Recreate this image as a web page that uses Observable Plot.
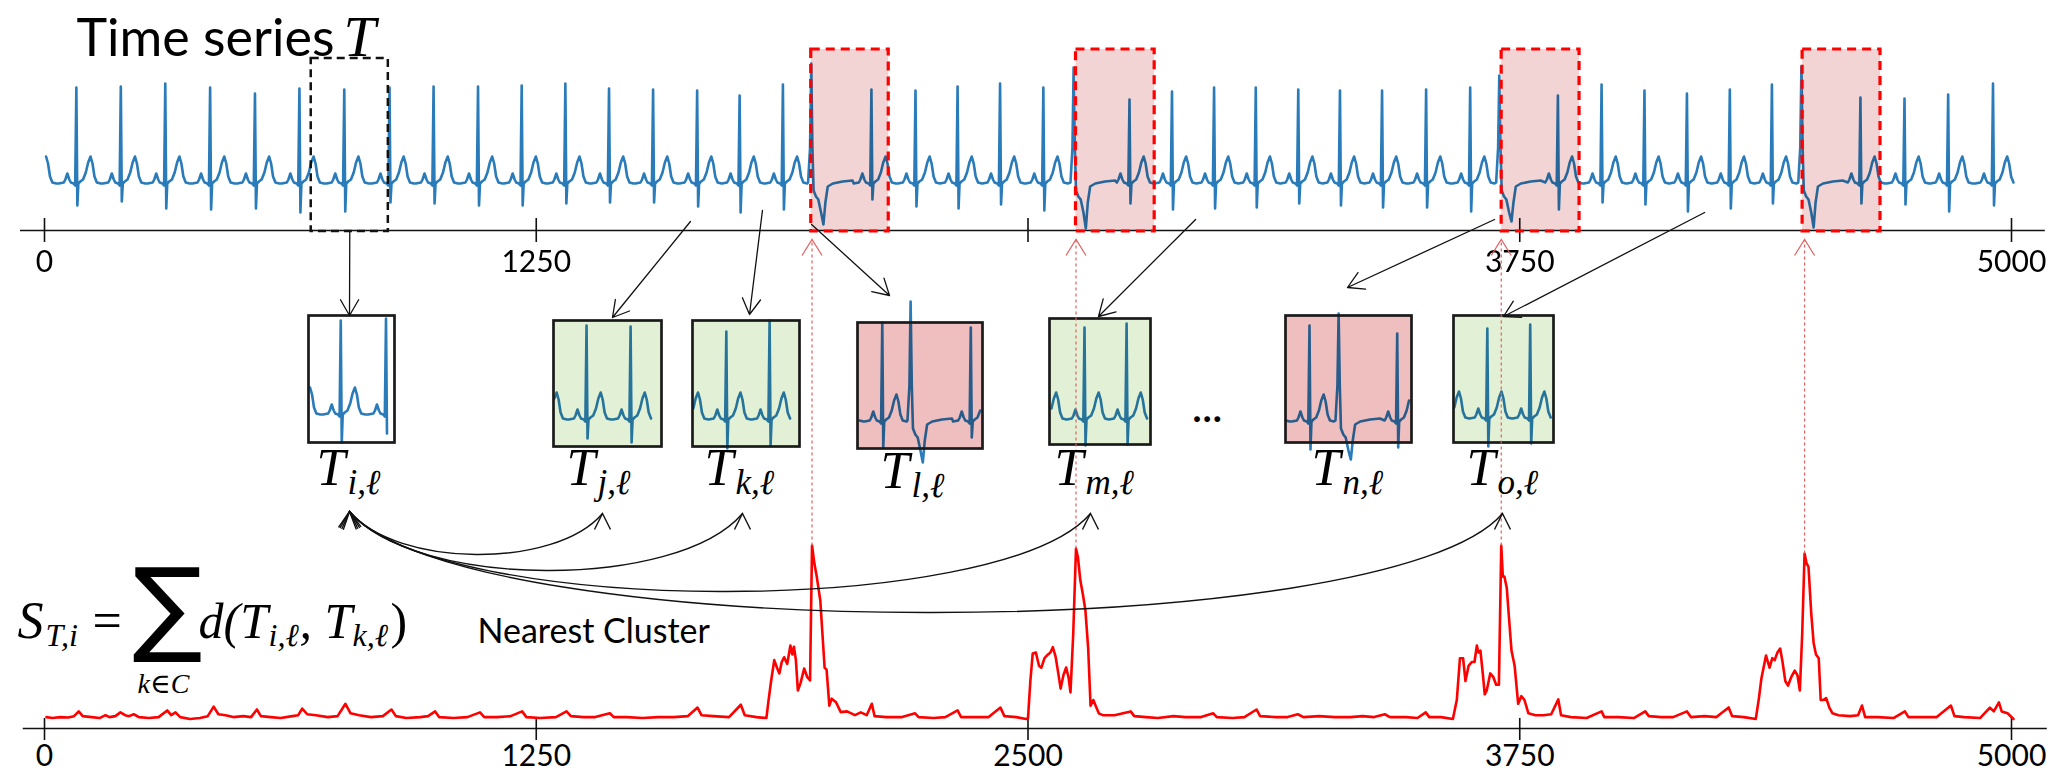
<!DOCTYPE html>
<html><head><meta charset="utf-8">
<script src="https://cdn.jsdelivr.net/npm/d3@7"></script>
<script src="https://cdn.jsdelivr.net/npm/@observablehq/plot@0.6"></script>
<style>
html,body{margin:0;padding:0;background:#fff;}
#fig{position:relative;width:2060px;height:772px;overflow:hidden;background:#fff;}
</style></head><body><div id="fig"></div>
<script>
// ---------------- DATA ----------------
// ECG beats (time index of R / ectopic spike), type, peak height, S / dip depth
const beatTimes = [-32,81,194,307,421,535,648,762,877,989,1102,1213,1324,1435,1547,1659,1767,1877,1949,2102,2214,2321,2429,2539,2616,2758,2866,2973,3079,3187,3293,3400,3512,3624,3698,3847,3958,4067,4175,4284,4391,4466,4616,4728,4839,4953];
const beatTypes = ["N","N","N","N","N","N","N","N","N","N","N","N","N","N","N","N","N","N","V","N","N","N","N","N","V","N","N","N","N","N","N","N","N","N","V","N","N","N","N","N","N","V","N","N","N","N"];
const beatPeaks = [95,95,96,99,95,89,94,93,95,96,96,97,99,94,93,92,87,98,119,93,92,96,99,95,115,83,91,95,95,93,92,92,93,95,107,87,98,92,89,93,98,116,85,84,88,99];
const beatDips  = [-22,-23,-19,-26,-27,-26,-30,-29,-20,-21,-23,-23,-21,-20,-20,-24,-30,-27,-42,-17,-24,-26,-22,-28,-46,-21,-27,-26,-25,-21,-23,-25,-25,-29,-39,-27,-20,-22,-29,-26,-21,-45,-21,-22,-29,-23];
// waveform shapes: [offset from R, value]; "R"/"S" take the beat's own peak / dip
const normalShape = [[-45,-1],[-32,0],[-28,3],[-23,9],[-18,3],[-14,0],[-7,-1],[-3,-3],[0,"R"],[2.5,"S"],[5,-1],[10,1],[17,3],[24,10],[30,20],[36,26],[41,19],[46,6],[52,0],[62,-1]];
const pvcShape = [[-8,0],[-3,35],[0,"R"],[3,35],[6,-8],[12,-14],[18,-17],[25,-30],[31,"S"],[36,-20],[42,-4],[55,-1],[80,1],[105,2]];

// anomaly score series [time, score]
const score = [[5,.06],[20,.055],[40,.06],[60,.058],[75,.065],[87,.09],[97,.065],[120,.06],[140,.055],[155,.07],[165,.06],[180,.065],[193,.085],[205,.07],[215,.065],[227,.075],[240,.06],[265,.055],[290,.06],[312,.095],[322,.07],[333,.085],[345,.06],[370,.05],[395,.055],[415,.065],[430,.115],[442,.075],[460,.07],[480,.06],[505,.065],[525,.06],[540,.1],[550,.065],[575,.06],[600,.055],[630,.065],[645,.07],[655,.105],[668,.075],[690,.07],[720,.06],[745,.065],[765,.13],[778,.08],[800,.07],[830,.06],[860,.065],[882,.1],[893,.065],[920,.055],[955,.06],[975,.065],[993,.09],[1003,.06],[1040,.055],[1075,.06],[1107,.085],[1118,.06],[1150,.06],[1185,.065],[1214,.09],[1225,.06],[1260,.055],[1300,.06],[1327,.09],[1338,.065],[1370,.06],[1400,.06],[1437,.08],[1447,.06],[1480,.06],[1520,.055],[1560,.06],[1600,.06],[1635,.065],[1660,.11],[1670,.07],[1700,.065],[1740,.06],[1770,.125],[1780,.07],[1810,.06],[1835,.055],
[1840,.14],[1847,.25],[1855,.36],[1862,.32],[1868,.29],[1874,.35],[1880,.375],[1888,.34],[1896,.437],[1901,.39],[1905,.43],[1910,.36],[1915,.2],[1922,.24],[1931,.316],[1939,.27],[1946,.253],[1951,.963],[1957,.868],[1963,.8],[1972,.674],[1983,.32],[1988,.31],[1995,.12],[2001,.157],[2012,.138],[2024,.086],[2040,.09],[2060,.07],[2075,.085],[2090,.07],[2103,.13],[2110,.065],[2140,.06],[2180,.06],[2213,.08],[2222,.06],[2260,.055],[2290,.06],[2321,.095],[2330,.06],[2370,.06],[2400,.06],[2430,.11],[2440,.065],[2470,.06],[2495,.05],
[2500,.055],[2506,.25],[2512,.395],[2520,.4],[2528,.33],[2534,.32],[2542,.37],[2551,.39],[2557,.4],[2563,.428],[2570,.38],[2577,.29],[2583,.21],[2590,.28],[2597,.321],[2603,.27],[2608,.19],[2615,.5],[2622,.947],[2627,.9],[2633,.78],[2640,.7],[2646,.62],[2653,.42],[2659,.12],[2666,.15],[2672,.12],[2680,.08],[2690,.07],[2720,.07],[2761,.09],[2770,.065],[2800,.06],[2830,.055],[2870,.065],[2900,.06],[2940,.06],[2971,.08],[2980,.06],[3020,.055],[3050,.06],[3081,.1],[3090,.065],[3130,.06],[3160,.06],[3186,.075],[3200,.06],[3240,.065],[3280,.06],[3320,.06],[3350,.065],[3380,.06],[3407,.075],[3420,.06],[3460,.06],[3490,.055],[3511,.085],[3520,.06],[3550,.06],[3580,.05],
[3590,.15],[3598,.37],[3606,.37],[3612,.25],[3620,.33],[3628,.35],[3635,.35],[3641,.437],[3645,.4],[3650,.41],[3656,.29],[3661,.18],[3666,.2],[3675,.29],[3683,.27],[3690,.23],[3697,.23],[3703,.963],[3707,.8],[3711,.8],[3717,.74],[3722,.6],[3729,.41],[3737,.33],[3746,.13],[3754,.17],[3762,.15],[3772,.08],[3790,.07],[3810,.07],[3830,.075],[3848,.153],[3855,.07],[3880,.06],[3920,.055],[3958,.09],[3965,.06],[4000,.06],[4040,.055],[4069,.09],[4078,.065],[4110,.06],[4140,.06],[4175,.09],[4185,.06],[4220,.065],[4250,.06],[4281,.111],[4290,.065],[4320,.06],[4350,.05],
[4358,.16],[4364,.26],[4376,.384],[4385,.32],[4392,.37],[4398,.36],[4405,.4],[4412,.421],[4418,.35],[4425,.25],[4432,.226],[4440,.27],[4449,.305],[4456,.28],[4462,.2],[4468,.5],[4474,.921],[4479,.87],[4484,.85],[4491,.605],[4497,.45],[4503,.39],[4510,.37],[4515,.15],[4521,.15],[4529,.16],[4537,.11],[4545,.08],[4560,.07],[4590,.065],[4610,.07],[4620,.121],[4628,.06],[4660,.06],[4700,.055],[4729,.09],[4738,.06],[4770,.06],[4810,.06],[4846,.121],[4855,.065],[4880,.06],[4920,.055],[4945,.11],[4955,.09],[4968,.137],[4975,.09],[4990,.08],[5005,.05]];

const topTicks = [0,1250,2500,3750,5000];
const topTickLabels = ["0","1250","","3750","5000"];
const bottomTicks = [0,1250,2500,3750,5000];
const bottomTickLabels = ["0","1250","2500","3750","5000"];

const queryWindow = [678, 874];
const anomalyWindows = [[1949,2146],[2622,2822],[3704,3902],[4469,4667]];
const anomalyPeakTimes = [1951, 2622, 3703, 4474];

const miniSubscripts = ["i,ℓ","j,ℓ","k,ℓ","l,ℓ","m,ℓ","n,ℓ","o,ℓ"];
const miniKinds = ["query","normal","normal","anomaly","normal","anomaly","normal"];
const miniWindows = [[680,881],[1463,1716],[1681,1934],[1814,2128],[2777,3026],[3563,3878],[4089,4340]];
const arrowSources = [[776,-49],[1642,-39],[1825,-28],[1950,-42],[2926,-37],[3686,-37],[4220,-30]]; // [time, value] on the series
const curveTargets = [1,2,4,6]; // T_i is linked to these subsequences

const titleText = "Time series";
const titleSymbol = "T";
const clusterText = "Nearest Cluster";
const ellipsis = "…";
const formulaParts = ["S","T,i","=","∑","k∈C","d(T","i,ℓ",", T","k,ℓ",")"];

// ---------------- LAYOUT (pixels) ----------------
const miniBoxes = [[308,315,86,127],[553,320,108,126],[692,320,107,126],[857,322,125,126],[1049,318,101,126],[1285,315,126,127],[1453,315,100,127]];
const miniBaselines = [413,418,418,420,418,420,417];
const miniLabelPos = [[316,484],[566,484],[704,484],[880,487],[1054,484],[1311,484],[1466,484]];
const arrowTargets = [[349,315],[612,317],[749,314],[889,295],[1098,316],[1347,287],[1503,316]];
const curveStart = [349,511];
const curveEnds = [[602,513],[742,513],[1090,513],[1502,513]];
const curveSags = [42,58,79,100];
const formulaLayout = [ // x, baseline, size, italic?, family
  [17,637,52,1,"s"],[45,645,32,1,"s"],[92,637,52,0,"s"],[132,641,104,0,"d"],[137,692,28,1,"s"],
  [198,637,50,1,"s"],[268,645,32,1,"s"],[299,637,50,1,"s"],[352,645,32,1,"s"],[390,637,50,0,"s"]];

// ---------------- BUILD ----------------
const ecgBlue = "#2a7bb9";
const serif = "'Liberation Serif','DejaVu Serif',serif";
const sans = "Lato,'Open Sans',sans-serif";
const fig = document.getElementById("fig");
function place(el, left, top, z) {
  el.style.position = "absolute"; el.style.left = left + "px"; el.style.top = top + "px"; el.style.zIndex = z;
  fig.appendChild(el); return el;
}

const ecg = [];
let lastT = -Infinity;
beatTimes.forEach((r, i) => {
  const shape = beatTypes[i] === "V" ? pvcShape : normalShape;
  for (const [dt, v] of shape) {
    const t = r + dt;
    if (t <= lastT) continue;
    ecg.push({t, v: v === "R" ? beatPeaks[i] : v === "S" ? beatDips[i] : v});
    lastT = t;
  }
});
const ecgSeries = ecg.filter(d => d.t >= 4 && d.t <= 5005);

const topChart = Plot.plot({
  width: 2060, height: 280, marginLeft: 44, marginRight: 49, marginTop: 0, marginBottom: 50,
  x: {domain: [0, 5000]}, y: {domain: [-48, 182], axis: null},
  style: {background: "transparent", overflow: "visible", fontFamily: sans, fontSize: "30px"},
  marks: [
    Plot.ruleY([-48], {x1: -61, x2: 5086, stroke: "#111", strokeWidth: 1.6}),
    Plot.ruleX(topTicks, {y1: -36, y2: -60, stroke: "#111", strokeWidth: 1.6}),
    Plot.axisX(topTicks, {tickSize: 0, tickPadding: 20, tickFormat: d => topTickLabels[topTicks.indexOf(d)], fontSize: 30, fontFamily: sans, label: null}),
    Plot.line(ecgSeries, {x: "t", y: "v", stroke: ecgBlue, strokeWidth: 2.6}),
    Plot.rect(anomalyWindows, {x1: d => d[0], x2: d => d[1], y1: -49, y2: 133, fill: "rgb(242,212,212)", mixBlendMode: "multiply"}),
    Plot.rect(anomalyWindows, {x1: d => d[0], x2: d => d[1], y1: -49, y2: 133, fill: "none", stroke: "#ff0000", strokeWidth: 3.2, strokeDasharray: "9,6"}),
    Plot.rect([queryWindow], {x1: d => d[0], x2: d => d[1], y1: -49, y2: 124, fill: "none", stroke: "#111", strokeWidth: 2.5, strokeDasharray: "8,5"})
  ]
});
place(topChart, 0, 0, 1);

const bottomChart = Plot.plot({
  width: 2060, height: 272, marginLeft: 44, marginRight: 49, marginTop: 38, marginBottom: 44,
  x: {domain: [0, 5000]}, y: {domain: [0, 1], axis: null},
  style: {background: "transparent", overflow: "visible", fontFamily: sans, fontSize: "30px"},
  marks: [
    Plot.ruleY([0], {x1: -54, x2: 5091, stroke: "#111", strokeWidth: 1.6}),
    Plot.ruleX(bottomTicks, {y1: 0.053, y2: -0.063, stroke: "#111", strokeWidth: 1.6}),
    Plot.axisX(bottomTicks, {tickSize: 0, tickPadding: 16, tickFormat: d => bottomTickLabels[bottomTicks.indexOf(d)], fontSize: 30, fontFamily: sans, label: null}),
    Plot.line(score, {x: d => d[0], y: d => d[1], stroke: "#ff0000", strokeWidth: 2.6})
  ]
});
place(bottomChart, 0, 500, 1);

const xT = topChart.scale("x"), yT = topChart.scale("y");
const xB = bottomChart.scale("x"), yB = bottomChart.scale("y");
const pxPerT = (xT.apply(5000) - xT.apply(0)) / 5000;

// subsequence thumbnails
const kindFill = {query: null, normal: "#e2f0d6", anomaly: "#efbebe"};
miniWindows.forEach(([w0, w1], i) => {
  const [bx, by, bw, bh] = miniBoxes[i];
  const bl = miniBaselines[i];
  const pad = 30;
  const seg = ecgSeries.filter(d => d.t >= w0 && d.t <= w1);
  const fill = kindFill[miniKinds[i]];
  const chart = Plot.plot({
    width: bw, height: bh + 2 * pad, marginLeft: 0, marginRight: 0, marginTop: pad, marginBottom: pad,
    x: {domain: [w0, w0 + bw / pxPerT], axis: null},
    y: {domain: [bl - (by + bh), bl - by], axis: null},
    style: {background: "transparent", overflow: "visible"},
    marks: [
      Plot.line(seg, {x: "t", y: "v", stroke: ecgBlue, strokeWidth: 2.6}),
      fill ? Plot.frame({fill, stroke: "none", mixBlendMode: "multiply"}) : null,
      Plot.frame({stroke: "#1a1a1a", strokeWidth: 2.7})
    ]
  });
  place(chart, bx, by - pad, 2);
});

// annotation overlay
function chevron(w, h) { return {draw(ctx) { ctx.moveTo(-w, h); ctx.lineTo(0, 0); ctx.lineTo(w, h); }}; }
function bezierCurve(H) {
  return (context) => {
    let pts = [];
    return {
      areaStart() {}, areaEnd() {},
      lineStart() { pts = []; },
      point(x, y) { pts.push([x, y]); },
      lineEnd() {
        const [x0, y0] = pts[0], [x1, y1] = pts[pts.length - 1];
        const c = H * 0.85;
        context.moveTo(x0, y0);
        context.bezierCurveTo(x0 + c, y0 + H, x1 - c, y1 + H, x1, y1);
      }
    };
  };
}
const arrows = arrowSources.map(([t, v], i) => ({x1: xT.apply(t), y1: yT.apply(v), x2: arrowTargets[i][0], y2: arrowTargets[i][1]}));
const dotted = anomalyPeakTimes.map(t => {
  const p = score.reduce((a, b) => Math.abs(b[0] - t) < Math.abs(a[0] - t) ? b : a);
  return {x: xT.apply(t), y1: yB.apply(p[1]) + 500, y2: yT.apply(-57)};
});
const curves = curveEnds.map((e, i) => ({x1: curveStart[0], y1: curveStart[1], x2: e[0], y2: e[1], H: curveSags[i] / 0.75}));
const startHeads = curveTargets.map((d, i) => ({x: curveStart[0], y: curveStart[1], r: [-9, -4, 2, 7][i]}));

const textItems = [];
textItems.push({text: titleText, x: 76, y: 55, size: 52, family: sans, style: "normal", weight: "normal"});
textItems.push({text: titleSymbol, x: 343, y: 55, size: 58, family: serif, style: "italic", weight: "normal"});
miniSubscripts.forEach((s, i) => {
  const [lx, ly] = miniLabelPos[i];
  textItems.push({text: "T", x: lx, y: ly, size: 52, family: serif, style: "italic", weight: "normal"});
  textItems.push({text: s, x: lx + 31, y: ly + 9, size: 35, family: serif, style: "italic", weight: "normal"});
});
textItems.push({text: clusterText, x: 477, y: 642, size: 34, family: sans, style: "normal", weight: "normal"});
textItems.push({text: ellipsis, x: 1192, y: 421, size: 38, family: sans, style: "normal", weight: "bold"});
formulaParts.forEach((s, i) => {
  const [fx, fy, fs, it, fam] = formulaLayout[i];
  textItems.push({text: s, x: fx, y: fy, size: fs, family: fam === "d" ? "'DejaVu Sans',sans-serif" : serif, style: it ? "italic" : "normal", weight: "normal"});
});

const overlay = Plot.plot({
  width: 2060, height: 772, margin: 0,
  x: {type: "identity", axis: null}, y: {type: "identity", axis: null},
  style: {background: "transparent", overflow: "visible"},
  marks: [
    Plot.link(dotted, {x1: "x", x2: "x", y1: "y1", y2: "y2", stroke: "#e06060", strokeWidth: 1.2, strokeDasharray: "3,3"}),
    Plot.dot(dotted, {x: "x", y: "y2", symbol: chevron(10, 16), fill: "none", stroke: "#e06060", strokeWidth: 1.2}),
    Plot.arrow(arrows, {x1: "x1", y1: "y1", x2: "x2", y2: "y2", stroke: "#111", strokeWidth: 1.3, headLength: 21, headAngle: 60}),
    ...curves.map(c => Plot.link([c], {x1: "x1", y1: "y1", x2: "x2", y2: "y2", stroke: "#111", strokeWidth: 1.4, curve: bezierCurve(c.H)})),
    Plot.dot(curves, {x: "x2", y: "y2", symbol: chevron(8, 16), fill: "none", stroke: "#111", strokeWidth: 1.4}),
    Plot.dot(startHeads, {x: "x", y: "y", rotate: "r", symbol: chevron(9, 17), fill: "none", stroke: "#111", strokeWidth: 1.4}),
    ...textItems.map(d => Plot.text([d], {x: "x", y: "y", text: "text", fontSize: d.size, fontFamily: d.family, fontStyle: d.style, fontWeight: d.weight, textAnchor: "start", lineAnchor: "bottom", fill: "#000"}))
  ]
});
place(overlay, 0, 0, 3);
</script></body></html>
